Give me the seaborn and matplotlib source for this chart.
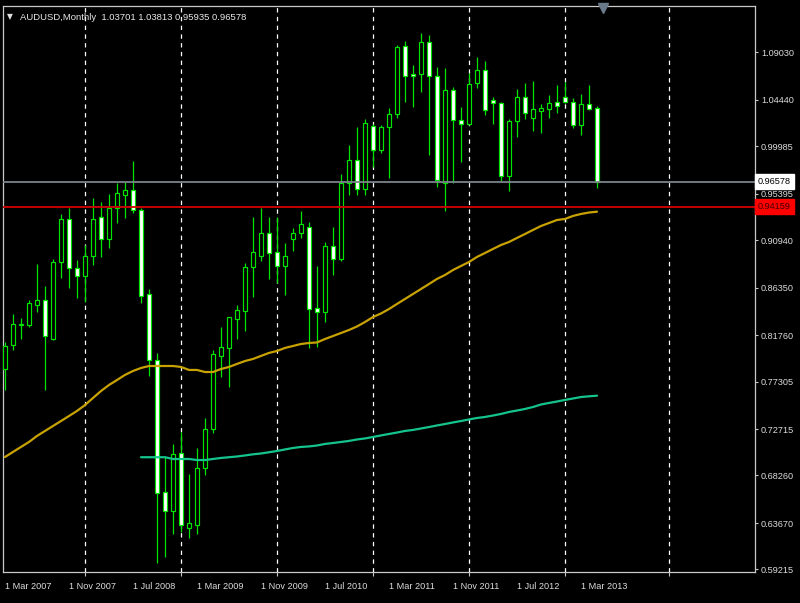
import numpy as np
import pandas as pd
import matplotlib
matplotlib.use("Agg")
import matplotlib.pyplot as plt
import seaborn as sns

# ---------------- data ----------------
months = pd.date_range("2007-03-01", periods=75, freq="MS")

opens = [0.7851, 0.8083, 0.8272, 0.8272, 0.8468, 0.8516, 0.8140, 0.8879, 0.9300, 0.8827,
         0.8747, 0.8940, 0.9313, 0.9104, 0.9400, 0.9528, 0.9576, 0.9383, 0.8571, 0.7938,
         0.6669, 0.6486, 0.7045, 0.6322, 0.6348, 0.6900, 0.7270, 0.7977, 0.8057, 0.8330,
         0.8413, 0.8831, 0.8940, 0.9165, 0.8982, 0.8844, 0.9104, 0.9159, 0.9217, 0.8436,
         0.8398, 0.9036, 0.8908, 0.9644, 0.9865, 0.9586, 1.0193, 0.9962, 1.0180, 1.0306,
         1.0964, 1.0694, 1.0691, 1.1005, 1.0675, 0.9641, 1.0540, 1.0251, 1.0209, 1.0604,
         1.0732, 1.0443, 1.0417, 0.9711, 1.0241, 1.0475, 1.0273, 1.0340, 1.0354, 1.0427,
         1.0469, 1.0427, 1.0202, 1.0402, 1.03701]
highs = [0.8114, 0.8381, 0.8340, 0.8516, 0.8860, 0.8654, 0.8911, 0.9345, 0.9400, 0.8902,
         0.9046, 0.9496, 0.9463, 0.9538, 0.9641, 0.9656, 0.9856, 0.9400, 0.8622, 0.8008,
         0.7000, 0.7129, 0.7247, 0.6840, 0.7087, 0.7376, 0.8034, 0.8253, 0.8355, 0.8468,
         0.8873, 0.9319, 0.9400, 0.9319, 0.9319, 0.9068, 0.9207, 0.9374, 0.9271, 0.8847,
         0.9078, 0.9222, 0.9730, 1.0010, 1.0186, 1.0257, 1.0212, 1.0202, 1.0363, 1.0973,
         1.1012, 1.0781, 1.1086, 1.1070, 1.0764, 1.0749, 1.0571, 1.0379, 1.0701, 1.0861,
         1.0819, 1.0475, 1.0427, 1.0257, 1.0546, 1.0610, 1.0626, 1.0405, 1.0492, 1.0588,
         1.0620, 1.0460, 1.0501, 1.0588, 1.03813]
lows = [0.7649, 0.8034, 0.8137, 0.8259, 0.8398, 0.7649, 0.8131, 0.8725, 0.8629, 0.8533,
        0.8494, 0.8853, 0.8933, 0.9014, 0.9255, 0.9309, 0.9354, 0.8484, 0.7784, 0.5985,
        0.6043, 0.6261, 0.6281, 0.6220, 0.6261, 0.6830, 0.7232, 0.7771, 0.7681, 0.8137,
        0.8217, 0.8548, 0.8895, 0.8716, 0.8680, 0.8564, 0.8988, 0.9111, 0.8051, 0.8066,
        0.8301, 0.8757, 0.8892, 0.9528, 0.9528, 0.9528, 0.9798, 0.9930, 0.9695, 1.0273,
        1.0427, 1.0379, 1.0518, 0.9913, 0.9608, 0.9377, 0.9641, 0.9843, 1.0202, 1.0556,
        1.0299, 1.0212, 0.9663, 0.9569, 1.0090, 1.0257, 1.0145, 1.0128, 1.0267, 1.0321,
        1.0414, 1.0171, 1.0106, 1.0350, 0.95935]
closes = [0.8076, 0.8282, 0.8285, 0.8490, 0.8516, 0.8169, 0.8885, 0.9300, 0.8827, 0.8747,
          0.8940, 0.9300, 0.9104, 0.9400, 0.9544, 0.9576, 0.9383, 0.8555, 0.7938, 0.6659,
          0.6486, 0.7029, 0.6348, 0.6370, 0.6900, 0.7270, 0.7993, 0.8060, 0.8349, 0.8420,
          0.8831, 0.8982, 0.9165, 0.8966, 0.8844, 0.8940, 0.9159, 0.9248, 0.8429, 0.8398,
          0.9036, 0.8908, 0.9644, 0.9865, 0.9586, 1.0225, 0.9962, 1.0180, 1.0306, 1.0951,
          1.0675, 1.0675, 1.1005, 1.0675, 0.9672, 1.0540, 1.0251, 1.0209, 1.0594, 1.0732,
          1.0347, 1.0412, 0.9711, 1.0241, 1.0475, 1.0315, 1.0354, 1.0363, 1.0417, 1.0386,
          1.0427, 1.0202, 1.0402, 1.0354, 0.96578]

ma_yellow = [0.7003, 0.7052, 0.7100, 0.7148, 0.7206, 0.7254, 0.7302, 0.7350, 0.7398, 0.7447,
             0.7504, 0.7572, 0.7639, 0.7697, 0.7745, 0.7794, 0.7832, 0.7861, 0.7880, 0.7880,
             0.7880, 0.7880, 0.7871, 0.7842, 0.7842, 0.7822, 0.7822, 0.7851, 0.7871, 0.7900,
             0.7928, 0.7948, 0.7977, 0.8006, 0.8025, 0.8054, 0.8073, 0.8092, 0.8102, 0.8107,
             0.8140, 0.8169, 0.8198, 0.8227, 0.8261, 0.8304, 0.8352, 0.8386, 0.8429, 0.8478,
             0.8526, 0.8574, 0.8622, 0.8670, 0.8719, 0.8757, 0.8805, 0.8844, 0.8882, 0.8931,
             0.8969, 0.9008, 0.9046, 0.9075, 0.9114, 0.9152, 0.9191, 0.9229, 0.9258, 0.9287,
             0.9297, 0.9326, 0.9345, 0.9359, 0.9367]
ma_green = [np.nan] * 17 + [
             0.7001, 0.7001, 0.7001, 0.7001, 0.6984, 0.6984, 0.6984, 0.6974, 0.6974, 0.6984,
             0.6994, 0.7001, 0.7008, 0.7018, 0.7029, 0.7037, 0.7049, 0.7061, 0.7076, 0.7090,
             0.7100, 0.7105, 0.7114, 0.7129, 0.7138, 0.7148, 0.7158, 0.7172, 0.7182, 0.7196,
             0.7211, 0.7225, 0.7239, 0.7254, 0.7264, 0.7278, 0.7292, 0.7307, 0.7321, 0.7336,
             0.7350, 0.7365, 0.7379, 0.7389, 0.7403, 0.7418, 0.7437, 0.7451, 0.7466, 0.7485,
             0.7509, 0.7524, 0.7538, 0.7553, 0.7567, 0.7581, 0.7588, 0.7594]

x_tick_labels = ["1 Mar 2007", "1 Nov 2007", "1 Jul 2008", "1 Mar 2009", "1 Nov 2009",
                 "1 Jul 2010", "1 Mar 2011", "1 Nov 2011", "1 Jul 2012", "1 Mar 2013"]
price_ticks = [1.09030, 1.04440, 0.99985, 0.95395, 0.90940, 0.86350,
               0.81760, 0.77305, 0.72715, 0.68260, 0.63670, 0.59215]
bid_price = 0.96578
level_price = 0.94159
title_symbol = "AUDUSD,Monthly"
title_ohlc = "1.03701 1.03813 0.95935 0.96578"

# ---------------- style ----------------
sns.set_theme(style="dark", rc={
    "axes.facecolor": "black", "figure.facecolor": "black",
    "axes.edgecolor": "#c8c8c8", "text.color": "#e0e0e0",
    "xtick.color": "#c8c8c8", "ytick.color": "#c8c8c8",
})
plt.rcParams["font.family"] = ["Liberation Sans", "DejaVu Sans"]
FS = 6.6

df = pd.DataFrame({"month": months, "open": opens, "high": highs, "low": lows,
                   "close": closes, "ma_yellow": ma_yellow, "ma_green": ma_green})
df["idx"] = np.arange(len(df))
df["bull"] = df["close"] >= df["open"]

fig = plt.figure(figsize=(8, 6.03), dpi=100)
ax = fig.add_axes([3 / 800, 1 - 572 / 603, 752 / 800, 566 / 603])
ax.set_facecolor("black")

GREEN = "#00e400"

# grid: January of each year (plus one into the future space)
jan_idx = list(df.loc[df["month"].dt.month == 1, "idx"])
jan_idx.append(jan_idx[-1] + 13)
for gx in jan_idx:
    ax.axvline(gx, color="white", lw=0.9, ls=(0, (3.5, 3.5)), zorder=1)

# candles
ax.vlines(df["idx"], df["low"], df["high"], color=GREEN, lw=0.9, zorder=3)
body_bottom = np.minimum(df["open"], df["close"])
body_h = np.maximum((df["close"] - df["open"]).abs(), 0.0012)
ax.bar(df["idx"], body_h, bottom=body_bottom, width=0.62,
       color=np.where(df["bull"], "black", "white"), edgecolor=GREEN,
       linewidth=0.85, zorder=4)

# moving averages
sns.lineplot(data=df, x="idx", y="ma_yellow", color="#c8a200", lw=1.6, ax=ax, zorder=5)
sns.lineplot(data=df.dropna(subset=["ma_green"]), x="idx", y="ma_green",
             color="#14c48c", lw=1.6, ax=ax, zorder=5)

# price lines
ax.axhline(bid_price, color="#7c848c", lw=1.3, zorder=6)
ax.axhline(level_price, color="#d40000", lw=1.3, zorder=6)

ax.set_xlim(-0.25, 93.75)
ax.set_ylim(0.5895, 1.1349)

# axes / ticks
for s in ax.spines.values():
    s.set_color("#c8c8c8")
    s.set_linewidth(0.9)

ax.yaxis.tick_right()
ax.set_yticks(price_ticks)
ax.set_yticklabels([f"{v:.5f}" for v in price_ticks])
ax.tick_params(axis="y", right=True, left=False, labelright=True, labelleft=False,
               length=2.2, width=0.8, pad=2.2, labelsize=FS, labelcolor="#dcdcdc")

label_pos = [i for i, m in enumerate(df["month"]) if f"1 {m.strftime('%b %Y')}" in x_tick_labels]
ax.set_xticks(label_pos)
ax.set_xticklabels(x_tick_labels, ha="left")
ax.set_xticks(jan_idx, minor=True)
ax.tick_params(axis="x", which="major", length=5, width=0.8, pad=2.5, labelsize=FS,
               labelcolor="#dcdcdc")
ax.tick_params(axis="x", which="minor", length=3, width=0.8, bottom=True)
ax.set_xlabel("")
ax.set_ylabel("")
ax.grid(False)

# right-side price tags
ytr = ax.get_yaxis_transform()
ax.text(1.004, bid_price, f"{bid_price:.5f}", transform=ytr, ha="left", va="center",
        fontsize=FS, color="black", zorder=10, clip_on=False,
        bbox=dict(boxstyle="square,pad=0.3", fc="white", ec="white"))
ax.text(1.004, level_price, f"{level_price:.5f}", transform=ytr, ha="left", va="center",
        fontsize=FS, color="#400000", zorder=10, clip_on=False,
        bbox=dict(boxstyle="square,pad=0.3", fc="#ff0000", ec="#ff0000"))

# header text
fig.text(7 / 800, 1 - 17 / 603, "\u25bc", fontsize=5.5, color="#e0e0e0", va="center",
         family=["DejaVu Sans"])
fig.text(20 / 800, 1 - 17 / 603, f"{title_symbol}  {title_ohlc}", fontsize=6.8,
         color="#e8e8e8", va="center")

# chart-shift marker
ax.plot([74.75], [1.1325], marker="v", color="#6a7a8a", ms=7, clip_on=False, zorder=10)

fig.savefig("out.png", dpi=100, facecolor="black")
